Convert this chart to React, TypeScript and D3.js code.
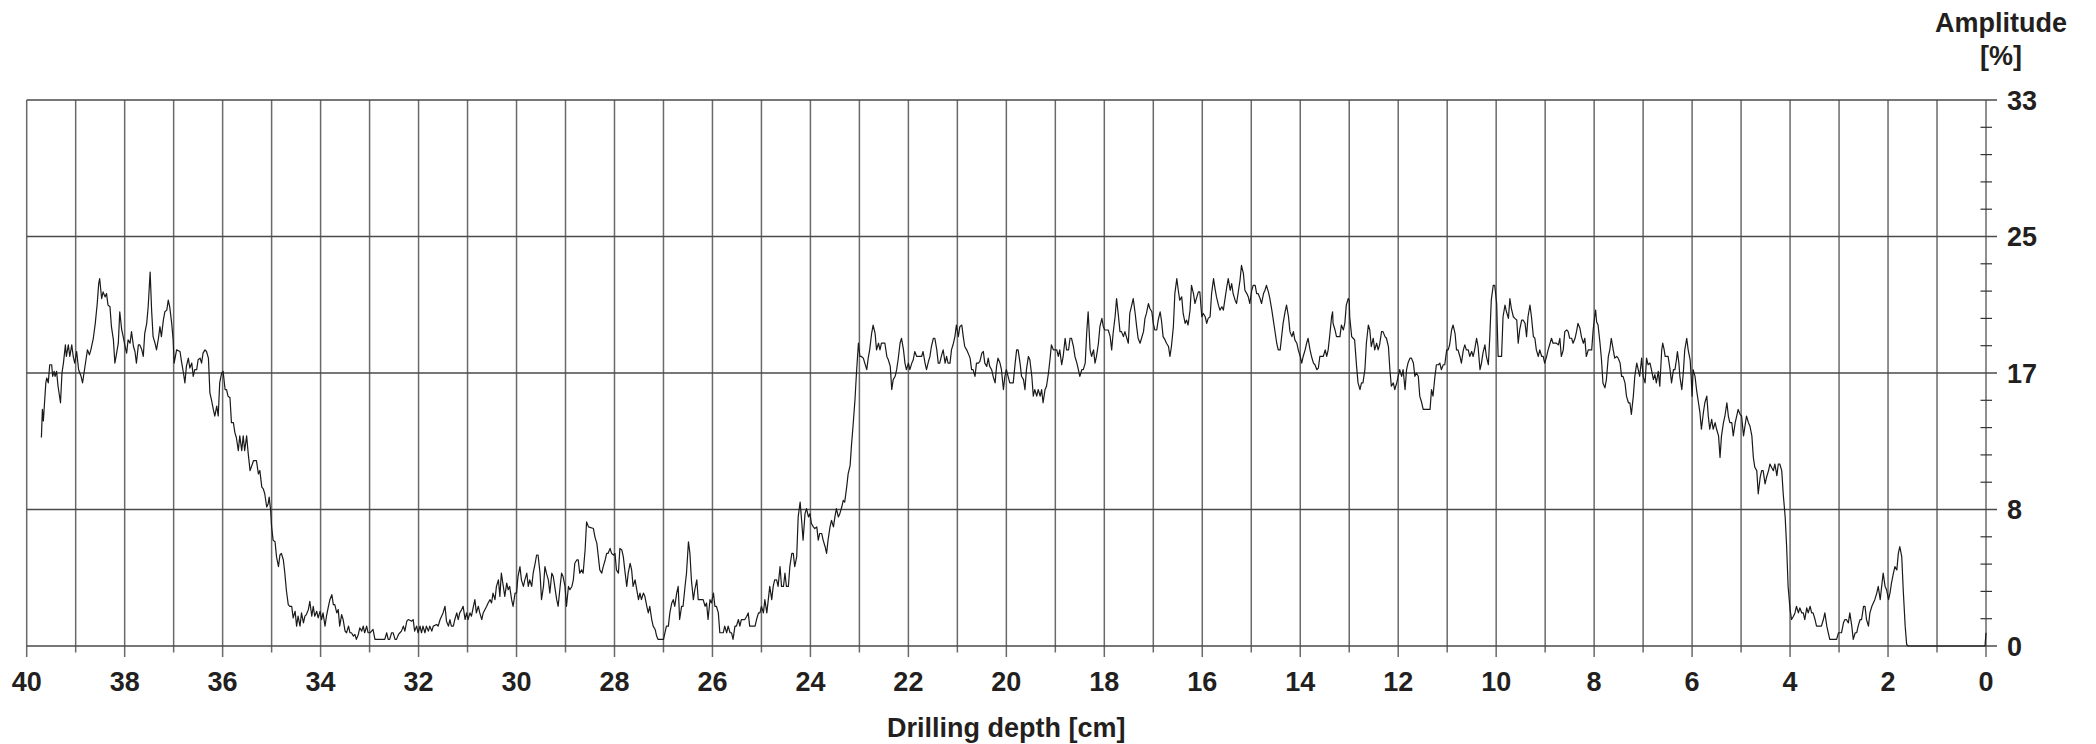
import React from "react";
import * as d3 from "d3";

// Drilling resistance trace: [depth cm, amplitude %]
const segment40to33: [number, number][] = [
  [39.70,12.6],[39.68,14.3],[39.66,13.6],[39.61,15.9],[39.59,16.2],[39.56,15.9],[39.53,17.0],[39.49,17.0],[39.47,16.3],[39.44,16.6],
  [39.42,16.3],[39.39,16.6],[39.36,15.7],[39.31,14.7],[39.28,16.5],[39.25,17.1],[39.21,18.2],[39.19,17.5],[39.15,18.2],[39.12,17.5],
  [39.08,18.2],[39.05,17.5],[39.02,17.1],[38.98,17.8],[38.94,16.7],[38.89,16.3],[38.86,15.9],[38.83,16.5],[38.79,17.3],[38.76,17.9],
  [38.72,17.6],[38.69,17.9],[38.64,18.6],[38.60,19.5],[38.56,20.7],[38.53,21.9],[38.51,22.2],[38.47,21.0],[38.44,21.4],[38.40,21.1],
  [38.37,21.3],[38.34,20.6],[38.30,20.5],[38.27,19.3],[38.23,18.5],[38.20,17.1],[38.17,17.6],[38.13,18.3],[38.10,20.2],[38.06,19.1],
  [38.03,18.7],[37.99,18.1],[37.96,17.7],[37.93,18.5],[37.89,18.3],[37.86,19.0],[37.82,18.1],[37.79,17.8],[37.76,17.1],[37.72,18.2],
  [37.69,18.2],[37.65,17.9],[37.62,17.5],[37.59,18.9],[37.55,19.5],[37.52,20.5],[37.48,22.6],[37.45,20.3],[37.42,18.7],[37.38,18.3],
  [37.35,17.9],[37.31,18.6],[37.28,19.3],[37.25,18.7],[37.21,19.7],[37.18,20.2],[37.14,20.3],[37.11,20.9],[37.08,20.5],[37.04,19.5],
  [37.01,18.5],[36.99,17.1],[36.94,17.9],[36.87,17.8],[36.84,17.2],[36.80,16.5],[36.77,15.9],[36.74,16.9],[36.70,17.4],[36.67,16.8],
  [36.63,17.1],[36.60,16.3],[36.57,16.7],[36.53,16.7],[36.50,17.3],[36.46,17.4],[36.43,17.1],[36.40,17.7],[36.36,17.9],[36.33,17.8],
  [36.29,17.4],[36.26,15.3],[36.23,14.9],[36.19,14.3],[36.16,13.9],[36.12,14.5],[36.09,13.9],[36.06,15.9],[36.02,16.5],[35.99,16.6],
  [35.95,15.5],[35.92,15.5],[35.89,15.1],[35.85,15.0],[35.82,13.5],[35.78,13.5],[35.75,12.9],[35.72,12.6],[35.68,11.8],[35.65,12.7],
  [35.61,11.8],[35.58,12.7],[35.55,11.8],[35.51,12.7],[35.48,11.7],[35.44,10.6],[35.37,11.2],[35.31,11.2],[35.27,10.4],[35.24,10.6],
  [35.20,9.6],[35.17,9.5],[35.14,9.2],[35.10,8.4],[35.07,8.6],[35.05,9.0],[35.02,8.2],[35.00,7.2],[34.97,6.4],[34.93,6.3],
  [34.90,5.4],[34.86,4.8],[34.83,5.5],[34.80,5.6],[34.76,5.2],[34.73,4.4],[34.70,3.4],[34.66,2.5],[34.63,2.4],[34.59,2.4],
  [34.56,1.7],[34.52,2.1],[34.49,1.2],[34.46,1.8],[34.42,1.2],[34.39,2.0],[34.35,1.4],[34.32,1.8],[34.29,1.9],[34.25,2.2],
  [34.22,2.7],[34.18,1.8],[34.15,2.4],[34.12,1.8],[34.08,2.1],[34.05,1.7],[34.01,2.1],[33.98,1.6],[33.95,2.0],[33.91,1.2],
  [33.88,1.8],[33.84,2.4],[33.81,2.8],[33.77,3.1],[33.74,2.5],[33.71,2.5],[33.67,2.0],[33.64,2.2],[33.61,1.2],[33.57,1.9],
  [33.54,1.6],[33.50,0.9],[33.47,0.8],[33.43,1.2],
];

const segment33to26: [number, number][] = [
  [33.40,0.8],[33.37,0.8],[33.33,0.6],[33.30,0.7],[33.27,0.4],[33.23,0.7],[33.20,1.1],[33.16,0.9],[33.13,1.2],[33.10,0.8],
  [33.06,1.2],[33.03,0.8],[32.99,0.8],[32.96,0.9],[32.93,1.0],[32.89,0.4],[32.79,0.4],[32.69,0.4],[32.65,0.8],[32.62,0.4],
  [32.59,0.4],[32.55,0.8],[32.52,0.8],[32.48,0.4],[32.45,0.4],[32.41,0.7],[32.38,0.8],[32.35,0.9],[32.31,1.2],[32.28,0.9],
  [32.24,1.5],[32.21,1.6],[32.14,1.5],[32.11,1.6],[32.08,0.9],[32.04,1.2],[32.01,0.8],[31.97,1.2],[31.94,0.8],[31.91,1.2],
  [31.87,0.8],[31.84,1.2],[31.80,0.9],[31.77,1.2],[31.73,0.9],[31.70,1.2],[31.63,1.3],[31.60,1.2],[31.56,1.6],[31.53,1.8],
  [31.50,2.0],[31.46,2.4],[31.43,1.5],[31.39,1.2],[31.36,1.6],[31.33,1.2],[31.29,1.2],[31.26,1.6],[31.22,2.0],[31.19,1.6],
  [31.16,2.0],[31.12,2.2],[31.09,2.4],[31.05,1.6],[31.02,2.0],[30.99,1.6],[30.95,2.0],[30.92,1.8],[30.88,2.4],[30.85,2.8],
  [30.82,2.0],[30.78,2.4],[30.75,2.0],[30.71,1.6],[30.68,2.0],[30.61,2.4],[30.58,2.6],[30.54,2.8],[30.51,2.6],[30.48,3.2],
  [30.44,2.8],[30.41,3.6],[30.37,4.0],[30.34,3.0],[30.31,4.4],[30.27,3.6],[30.24,3.0],[30.20,3.8],[30.17,3.4],[30.14,3.6],
  [30.10,2.8],[30.07,2.4],[30.03,3.2],[30.00,3.2],[29.97,4.2],[29.93,4.8],[29.90,4.0],[29.86,3.6],[29.83,4.0],[29.79,4.4],
  [29.76,3.6],[29.73,4.0],[29.69,3.6],[29.66,4.4],[29.62,5.0],[29.59,5.5],[29.56,5.5],[29.52,4.4],[29.49,2.8],[29.45,3.6],
  [29.42,4.8],[29.39,4.4],[29.35,4.0],[29.32,3.2],[29.28,4.4],[29.25,4.2],[29.22,3.6],[29.18,2.8],[29.15,2.4],[29.11,3.6],
  [29.08,4.4],[29.05,4.2],[29.01,3.6],[28.98,2.4],[28.94,3.6],[28.91,3.4],[28.87,3.6],[28.84,4.0],[28.81,5.0],[28.77,5.2],
  [28.74,5.2],[28.71,4.4],[28.67,4.6],[28.64,4.4],[28.60,5.8],[28.57,7.5],[28.53,7.2],[28.43,7.1],[28.40,6.6],[28.36,6.2],
  [28.33,5.4],[28.30,4.6],[28.26,4.4],[28.23,4.8],[28.19,5.2],[28.16,5.6],[28.13,5.6],[28.09,5.9],[28.06,5.6],[28.02,5.5],
  [27.99,5.6],[27.96,4.6],[27.92,4.4],[27.89,5.9],[27.85,5.8],[27.82,5.4],[27.79,4.6],[27.75,3.6],[27.72,4.4],[27.68,5.0],
  [27.65,4.6],[27.62,3.6],[27.58,4.0],[27.51,2.8],[27.48,3.2],[27.45,2.8],[27.41,3.2],[27.38,3.0],[27.34,2.4],[27.31,2.0],
  [27.28,2.4],[27.24,1.6],[27.21,1.2],[27.17,1.0],[27.14,0.6],[27.11,0.4],[27.00,0.4],[26.97,0.8],[26.94,1.2],[26.90,1.2],
  [26.87,2.0],[26.83,2.6],[26.80,2.8],[26.77,2.4],[26.73,3.2],[26.70,3.6],[26.67,1.6],[26.63,2.4],[26.60,2.4],[26.56,3.6],
  [26.53,4.4],[26.49,6.3],[26.46,5.6],
];

const segment26to20: [number, number][] = [
  [26.43,4.0],[26.39,2.8],[26.36,3.4],[26.32,4.0],[26.29,2.8],[26.19,2.8],[26.15,2.4],[26.12,2.6],[26.09,1.6],[26.05,2.8],
  [26.02,2.6],[25.98,3.2],[25.95,2.4],[25.92,2.4],[25.88,2.0],[25.85,0.8],[25.78,0.8],[25.75,1.2],[25.71,0.8],[25.68,1.2],
  [25.64,0.8],[25.61,0.8],[25.58,0.4],[25.54,1.2],[25.51,1.2],[25.47,1.6],[25.44,1.2],[25.41,1.6],[25.34,1.6],[25.30,1.8],
  [25.27,2.0],[25.24,1.2],[25.13,1.2],[25.10,1.6],[25.06,2.0],[25.03,2.0],[25.00,2.4],[24.96,2.0],[24.93,2.8],[24.89,2.0],
  [24.86,2.8],[24.83,3.6],[24.79,2.8],[24.76,3.6],[24.73,4.0],[24.69,4.0],[24.66,3.6],[24.62,4.8],[24.59,3.6],[24.55,3.6],
  [24.52,4.4],[24.49,3.6],[24.45,3.6],[24.42,4.8],[24.38,5.6],[24.35,5.6],[24.32,4.8],[24.28,5.4],[24.25,7.8],[24.21,8.7],
  [24.18,7.6],[24.15,6.4],[24.11,8.0],[24.08,8.3],[24.04,7.8],[24.01,8.0],[23.98,7.4],[23.94,7.2],[23.91,7.1],[23.87,7.2],
  [23.84,6.4],[23.81,6.8],[23.77,6.8],[23.74,6.4],[23.70,6.0],[23.67,5.6],[23.64,6.4],[23.60,7.2],[23.57,7.6],[23.53,7.2],
  [23.50,7.8],[23.47,8.3],[23.43,7.8],[23.40,8.0],[23.36,8.4],[23.33,8.8],[23.30,8.7],[23.26,9.6],[23.23,10.4],[23.19,10.9],
  [23.16,12.2],[23.13,13.3],[23.09,14.9],[23.06,16.5],[23.02,18.3],[22.99,17.5],[22.96,17.5],[22.92,17.4],[22.89,17.1],[22.85,16.7],
  [22.82,17.4],[22.79,17.9],[22.75,18.9],[22.72,19.4],[22.68,18.9],[22.65,17.9],[22.61,18.3],[22.58,17.9],[22.55,18.3],[22.48,18.3],
  [22.44,17.5],[22.41,17.3],[22.37,16.9],[22.34,15.5],[22.31,16.1],[22.27,16.3],[22.24,16.7],[22.21,17.3],[22.17,18.3],[22.14,18.6],
  [22.10,17.9],[22.07,17.1],[22.04,16.7],[22.00,17.1],[21.97,16.7],[21.93,17.1],[21.90,17.3],[21.87,17.8],[21.83,17.5],[21.73,17.5],
  [21.70,17.8],[21.66,17.1],[21.63,16.7],[21.59,17.2],[21.56,17.5],[21.53,18.1],[21.49,18.6],[21.46,18.6],[21.42,17.9],[21.39,17.1],
  [21.36,17.1],[21.32,17.6],[21.29,17.9],[21.25,17.1],[21.22,17.5],[21.19,17.1],[21.15,17.1],[21.12,17.9],[21.08,18.3],[21.05,18.7],
  [21.02,19.4],[20.98,18.7],[20.95,19.3],[20.91,19.4],[20.88,18.7],[20.85,18.1],[20.81,17.9],[20.78,17.7],[20.74,17.4],[20.71,16.7],
  [20.68,16.7],[20.64,16.3],[20.61,17.1],[20.57,17.1],[20.54,17.2],[20.50,17.7],[20.47,17.8],[20.44,17.1],[20.40,16.9],[20.37,17.4],
  [20.34,16.9],[20.30,16.7],[20.27,16.3],[20.23,15.9],[20.20,16.9],[20.17,17.4],[20.13,17.1],[20.10,16.7],[20.06,15.5],[20.03,16.3],
  [20.00,16.7],
];

const segment20to13: [number, number][] = [
  [19.93,15.9],[19.89,15.9],[19.86,15.9],[19.82,17.1],[19.79,17.9],[19.76,17.9],[19.72,17.1],[19.69,16.3],[19.65,16.1],[19.62,15.5],
  [19.59,16.7],[19.55,17.5],[19.52,17.3],[19.48,16.3],[19.45,15.1],[19.42,15.5],[19.38,15.1],[19.35,15.5],[19.31,15.1],[19.28,15.5],
  [19.25,14.7],[19.21,15.5],[19.18,15.7],[19.14,16.5],[19.11,17.3],[19.08,18.2],[19.04,17.9],[19.01,17.9],[18.97,17.9],[18.94,17.5],
  [18.91,17.9],[18.87,17.0],[18.84,17.5],[18.80,18.6],[18.77,17.9],[18.73,17.9],[18.70,18.6],[18.67,18.6],[18.63,18.1],[18.60,17.5],
  [18.56,17.1],[18.53,16.7],[18.50,16.3],[18.46,16.7],[18.43,16.7],[18.39,17.1],[18.36,18.9],[18.33,20.2],[18.29,17.9],[18.26,17.5],
  [18.22,17.9],[18.19,17.1],[18.16,17.5],[18.12,18.3],[18.09,19.3],[18.05,19.8],[18.02,19.3],[17.99,19.1],[17.92,19.1],[17.88,18.7],
  [17.85,17.9],[17.82,18.9],[17.78,19.9],[17.75,21.0],[17.71,19.9],[17.68,19.0],[17.65,19.0],[17.61,18.7],[17.58,19.0],[17.54,18.6],
  [17.51,18.3],[17.48,20.1],[17.44,20.6],[17.41,21.0],[17.37,20.1],[17.34,19.3],[17.31,18.6],[17.27,18.3],[17.24,18.6],[17.20,19.0],
  [17.17,19.8],[17.14,20.1],[17.10,20.7],[17.07,20.4],[17.03,20.2],[17.00,19.5],[16.97,19.1],[16.93,19.1],[16.90,19.7],[16.86,20.2],
  [16.83,19.6],[16.80,18.7],[16.76,18.5],[16.73,18.3],[16.69,18.1],[16.66,17.5],[16.63,18.1],[16.59,19.3],[16.56,21.3],[16.52,22.2],
  [16.49,21.5],[16.46,20.9],[16.42,21.1],[16.39,20.1],[16.35,19.5],[16.32,19.7],[16.29,19.4],[16.25,20.3],[16.22,21.8],[16.18,21.3],
  [16.15,20.7],[16.11,21.1],[16.08,21.4],[16.05,21.4],[16.01,19.9],[15.98,20.1],[15.94,19.9],[15.91,19.5],[15.88,19.8],[15.84,19.9],
  [15.81,21.3],[15.77,22.2],[15.74,21.6],[15.71,21.1],[15.67,20.6],[15.64,20.3],[15.60,20.5],[15.57,20.3],[15.54,20.9],[15.50,21.7],
  [15.47,22.2],[15.43,21.5],[15.40,21.9],[15.37,21.3],[15.33,20.9],[15.30,20.7],[15.26,21.5],[15.23,22.1],[15.20,23.0],[15.16,22.5],
  [15.13,21.5],[15.09,21.3],[15.06,21.1],[15.03,20.7],[14.99,21.5],[14.96,21.8],[14.92,21.8],[14.89,21.3],[14.86,21.3],[14.82,21.0],
  [14.79,20.7],[14.75,21.3],[14.72,21.5],[14.69,21.8],[14.65,21.4],[14.62,21.0],[14.58,20.3],[14.55,19.7],[14.52,19.1],[14.48,18.3],
  [14.45,17.9],[14.41,17.9],[14.38,18.7],[14.35,19.5],[14.31,20.2],[14.28,20.6],[14.24,19.9],[14.21,19.0],[14.17,18.7],[14.14,19.0],
  [14.11,18.5],[14.07,18.3],[14.04,17.9],[14.00,17.5],[13.97,17.1],[13.94,17.5],[13.90,17.9],[13.87,18.3],[13.84,18.6],[13.80,17.9],
  [13.77,17.5],[13.73,17.1],[13.70,17.0],[13.66,16.7],[13.63,16.8],[13.60,17.5],[13.56,17.5],[13.53,17.5],[13.49,17.9],[13.46,17.5],
  [13.43,17.9],
];

const segment13to7: [number, number][] = [
  [13.40,18.7],[13.36,19.9],[13.34,20.2],[13.33,19.5],[13.29,19.1],[13.26,18.7],[13.23,18.7],[13.19,18.7],[13.16,19.4],[13.12,19.1],
  [13.09,19.5],[13.06,20.6],[13.02,21.0],[13.00,20.9],[12.99,19.9],[12.95,18.7],[12.92,18.6],[12.89,18.5],[12.85,16.9],[12.82,15.9],
  [12.78,15.5],[12.75,15.9],[12.72,15.9],[12.68,16.7],[12.65,18.3],[12.61,19.4],[12.58,19.1],[12.55,18.1],[12.51,18.6],[12.48,17.9],
  [12.44,18.3],[12.41,17.9],[12.38,18.2],[12.34,19.0],[12.31,19.0],[12.27,18.7],[12.24,18.6],[12.20,18.1],[12.17,16.7],[12.14,15.7],
  [12.10,15.9],[12.07,15.5],[12.03,15.9],[12.00,16.3],[11.97,16.7],[11.93,16.3],[11.90,16.7],[11.86,15.5],[11.83,16.7],[11.80,17.1],
  [11.76,17.4],[11.73,17.4],[11.69,17.1],[11.66,16.3],[11.63,16.5],[11.59,16.3],[11.56,15.1],[11.52,14.7],[11.49,14.3],[11.42,14.3],
  [11.35,14.3],[11.32,15.5],[11.29,15.1],[11.25,16.3],[11.22,17.0],[11.18,17.0],[11.15,17.1],[11.12,16.7],[11.08,17.0],[11.05,17.0],
  [11.01,17.9],[10.98,17.9],[10.95,18.2],[10.91,19.1],[10.88,19.4],[10.84,18.9],[10.81,17.9],[10.78,17.9],[10.74,17.5],[10.71,17.1],
  [10.67,17.9],[10.64,18.2],[10.61,17.9],[10.57,17.9],[10.54,17.5],[10.50,17.8],[10.47,17.5],[10.44,17.9],[10.40,18.6],[10.37,18.1],
  [10.33,16.7],[10.30,17.1],[10.27,17.7],[10.23,18.2],[10.20,17.5],[10.16,17.0],[10.13,18.7],[10.10,20.9],[10.06,21.8],[10.03,21.8],
  [9.99,20.7],[9.96,17.5],[9.93,17.5],[9.89,17.5],[9.86,19.9],[9.82,20.6],[9.79,20.2],[9.75,19.8],[9.72,21.0],[9.69,20.4],
  [9.65,19.9],[9.62,19.8],[9.58,19.7],[9.55,18.3],[9.52,19.1],[9.48,19.7],[9.45,19.7],[9.41,19.5],[9.38,18.7],[9.35,19.9],
  [9.31,20.6],[9.28,19.9],[9.24,18.7],[9.21,18.6],[9.18,17.9],[9.14,17.5],[9.11,17.9],[9.07,17.5],[9.04,17.5],[9.01,17.1],
  [8.97,17.5],[8.94,17.9],[8.90,18.3],[8.87,18.6],[8.84,18.3],[8.77,18.3],[8.73,18.2],[8.70,18.6],[8.67,17.5],[8.63,17.9],
  [8.60,19.0],[8.56,19.1],[8.53,19.0],[8.50,18.6],[8.46,18.6],[8.43,18.3],[8.39,18.6],[8.36,19.0],[8.33,19.5],[8.29,19.2],
  [8.26,18.7],[8.22,18.3],[8.19,18.6],[8.16,17.5],[8.12,17.9],[8.05,17.9],[8.02,19.1],[7.99,19.9],[7.97,20.3],[7.95,19.6],
  [7.92,19.4],[7.88,18.3],[7.85,17.3],[7.82,15.9],[7.78,15.6],[7.75,16.1],[7.71,17.5],[7.68,17.9],[7.65,18.6],[7.61,17.9],
  [7.58,17.4],[7.54,17.5],[7.51,17.4],[7.47,17.1],[7.44,16.3],[7.41,16.3],[7.37,15.9],[7.34,15.1],[7.30,14.7],[7.27,14.7],
  [7.24,14.0],[7.20,15.1],[7.17,16.3],[7.13,17.1],[7.10,16.7],[7.07,16.3],[7.03,17.4],[7.00,16.3],[6.96,15.9],[6.93,17.4],
  [6.90,17.0],[6.86,17.1],[6.83,16.7],[6.79,16.1],[6.76,16.4],[6.73,15.9],[6.69,16.6],[6.66,15.7],
];

const segment7to0: [number, number][] = [
  [6.62,17.9],[6.60,18.3],[6.57,17.9],[6.55,17.5],[6.49,17.5],[6.45,16.7],[6.42,15.9],[6.38,16.7],[6.35,16.7],[6.32,17.3],
  [6.30,17.8],[6.27,17.1],[6.25,16.3],[6.21,15.5],[6.18,16.5],[6.15,17.9],[6.11,18.6],[6.08,17.9],[6.04,17.3],[6.02,16.3],
  [6.00,15.1],[5.98,16.7],[5.94,16.3],[5.91,15.5],[5.87,14.7],[5.84,14.1],[5.81,13.1],[5.77,14.1],[5.74,14.7],[5.70,15.1],
  [5.67,13.9],[5.64,13.1],[5.60,13.7],[5.57,13.1],[5.53,13.5],[5.50,13.1],[5.46,12.7],[5.43,11.4],[5.40,12.7],[5.36,13.5],
  [5.33,13.9],[5.29,14.7],[5.26,13.9],[5.23,13.5],[5.19,13.5],[5.16,12.7],[5.12,13.5],[5.09,13.9],[5.06,14.3],[5.02,14.0],
  [4.99,13.9],[4.95,12.7],[4.92,13.3],[4.89,13.9],[4.85,13.5],[4.82,13.3],[4.78,12.7],[4.75,11.4],[4.72,10.8],[4.68,10.6],
  [4.65,9.2],[4.61,10.2],[4.58,10.6],[4.55,10.6],[4.51,9.8],[4.48,10.2],[4.44,10.6],[4.41,11.0],[4.38,10.8],[4.34,10.6],
  [4.31,11.0],[4.27,10.3],[4.24,11.0],[4.21,11.0],[4.17,10.6],[4.14,9.2],[4.10,7.8],[4.07,6.0],[4.04,3.6],[4.00,2.2],
  [3.97,1.6],[3.93,1.8],[3.90,2.0],[3.87,2.4],[3.83,2.0],[3.80,2.3],[3.76,2.0],[3.73,2.0],[3.70,1.6],[3.66,2.3],
  [3.63,2.0],[3.59,2.4],[3.56,2.0],[3.53,2.0],[3.49,1.6],[3.46,1.2],[3.36,1.2],[3.32,1.6],[3.29,2.0],[3.25,1.2],
  [3.22,0.8],[3.19,0.4],[3.05,0.4],[3.01,0.8],[2.95,0.8],[2.91,1.4],[2.88,1.6],[2.85,1.6],[2.81,1.4],[2.78,2.0],
  [2.74,1.2],[2.71,0.4],[2.67,0.8],[2.64,0.8],[2.61,1.2],[2.57,1.6],[2.54,1.6],[2.50,2.4],[2.47,2.4],[2.44,1.6],
  [2.40,1.2],[2.37,2.0],[2.33,2.4],[2.30,2.6],[2.27,2.8],[2.23,3.2],[2.20,3.6],[2.16,2.8],[2.13,3.6],[2.10,4.4],
  [2.06,3.6],[2.03,3.4],[1.99,2.8],[1.96,3.2],[1.93,3.8],[1.89,4.4],[1.86,4.8],[1.82,4.6],[1.79,5.6],[1.76,6.0],
  [1.72,5.4],[1.69,3.4],[1.65,1.2],[1.62,0.1],[1.59,0.0],[0.02,0.0],[0.0,0.8],
];

const xTickValues = [40, 39, 38, 37, 36, 35, 34, 33, 32, 31, 30, 29, 28, 27, 26, 25, 24, 23, 22, 21, 20, 19, 18, 17, 16, 15, 14, 13, 12, 11, 10, 9, 8, 7, 6, 5, 4, 3, 2, 1, 0];
const xTickLabels = ["40", "38", "36", "34", "32", "30", "28", "26", "24", "22", "20", "18", "16", "14", "12", "10", "8", "6", "4", "2", "0"];
const yTickValues = [0, 8.25, 16.5, 24.75, 33];
const yTickLabels = ["0", "8", "17", "25", "33"];
const yMinorStep = 1.65;

const xAxisTitle = "Drilling depth [cm]";
const yAxisTitle = ["Amplitude", "[%]"];

const W = 2096;
const H = 744;
const plotLeft = 26.7;
const plotRight = 1986;
const plotTop = 100;
const plotBottom = 646;

const FONT = "'Liberation Sans', Arial, Helvetica, sans-serif";
const TEXT = "#231f20";
const GRID = "#6a6a6a";

export default function App() {
  const trace = [
    ...segment40to33,
    ...segment33to26,
    ...segment26to20,
    ...segment20to13,
    ...segment13to7,
    ...segment7to0,
  ];

  const x = d3.scaleLinear().domain([40, 0]).range([plotLeft, plotRight]);
  const y = d3.scaleLinear().domain([0, 33]).range([plotBottom, plotTop]);

  const line = d3
    .line<[number, number]>()
    .x((d) => x(d[0]))
    .y((d) => y(d[1]));

  const minorTicks = d3.range(0, 33 + 1e-6, yMinorStep).filter(
    (v) => !yTickValues.some((t) => Math.abs(t - v) < 1e-6)
  );

  return (
    <div style={{ position: "absolute", left: 0, top: 0 }}>
      <svg width={W} height={H} viewBox={`0 0 ${W} ${H}`} style={{ display: "block", background: "#fff" }}>
        {/* vertical grid lines and bottom ticks */}
        {xTickValues.map((v) => (
          <line
            key={`vx${v}`}
            x1={x(v)}
            x2={x(v)}
            y1={plotTop}
            y2={plotBottom + (v % 2 === 0 ? 11 : 6.5)}
            stroke={GRID}
            strokeWidth={1.5}
          />
        ))}
        {/* horizontal grid lines */}
        {yTickValues.map((v) => (
          <line
            key={`hy${v}`}
            x1={plotLeft}
            x2={plotRight + 11}
            y1={y(v)}
            y2={y(v)}
            stroke="#4a4a4a"
            strokeWidth={1.4}
          />
        ))}
        {/* right axis minor ticks */}
        {minorTicks.map((v) => (
          <line
            key={`mt${v}`}
            x1={plotRight - 5.5}
            x2={plotRight + 6}
            y1={y(v)}
            y2={y(v)}
            stroke="#333"
            strokeWidth={1.2}
          />
        ))}
        {/* trace */}
        <path d={line(trace) || ""} fill="none" stroke="#1a1a1a" strokeWidth={1.2} strokeLinejoin="round" />

        {/* x tick labels */}
        {xTickLabels.map((lab) => (
          <text
            key={`xl${lab}`}
            x={x(+lab)}
            y={690.5}
            textAnchor="middle"
            fontFamily={FONT}
            fontWeight="bold"
            fontSize={27}
            fill={TEXT}
          >
            {lab}
          </text>
        ))}
        {/* y tick labels */}
        {yTickValues.map((v, i) => (
          <text
            key={`yl${v}`}
            x={plotRight + 21}
            y={y(v) + 9.7}
            textAnchor="start"
            fontFamily={FONT}
            fontWeight="bold"
            fontSize={27}
            fill={TEXT}
          >
            {yTickLabels[i]}
          </text>
        ))}
        {/* axis titles */}
        <text x={(plotLeft + plotRight) / 2} y={736.5} textAnchor="middle" fontFamily={FONT} fontWeight="bold" fontSize={27} fill={TEXT}>
          {xAxisTitle}
        </text>
        <text x={2001} y={31.5} textAnchor="middle" fontFamily={FONT} fontWeight="bold" fontSize={27} fill={TEXT}>
          {yAxisTitle[0]}
        </text>
        <text x={2001} y={64.5} textAnchor="middle" fontFamily={FONT} fontWeight="bold" fontSize={27} fill={TEXT}>
          {yAxisTitle[1]}
        </text>
      </svg>
    </div>
  );
}
